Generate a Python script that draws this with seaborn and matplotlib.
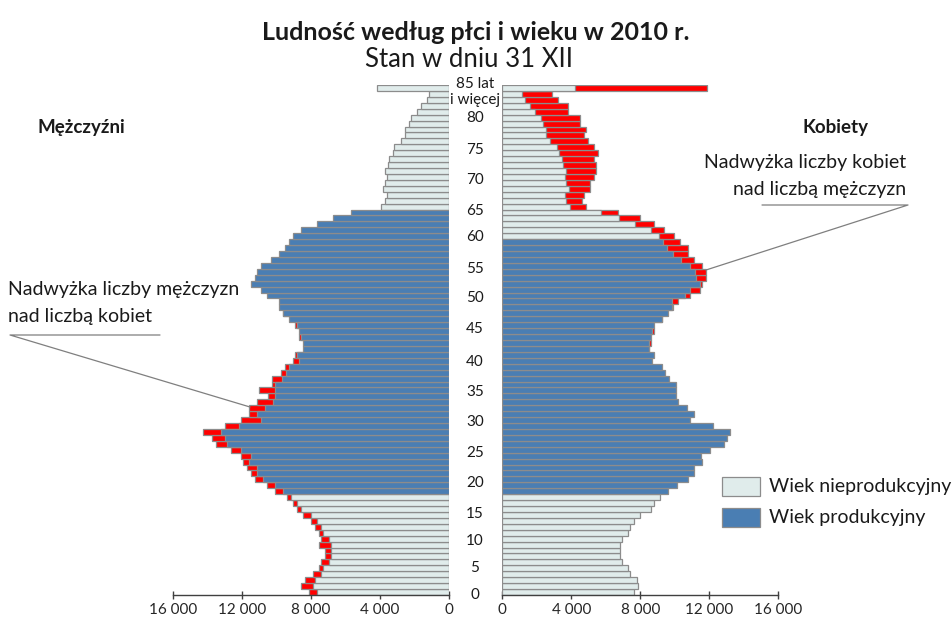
import numpy as np
import pandas as pd
import matplotlib
matplotlib.use("Agg")
import matplotlib.pyplot as plt
import matplotlib.transforms as mtransforms
from matplotlib.patches import Rectangle
from matplotlib.lines import Line2D
from matplotlib.ticker import FuncFormatter, FixedLocator
import seaborn as sns

# ---------------- data ----------------
ages = list(range(86))  # 85 = "85 lat i więcej"
men = [8120, 8580, 8350, 7900, 7540, 7420, 7190, 7190, 7540, 7420,
       7540, 7770, 8000, 8450, 8830, 9060, 9410, 10070, 10550, 11230,
       11480, 11690, 11920, 12060, 12640, 13530, 13760, 14240, 12990, 12060,
       11570, 11570, 11110, 10510, 11000, 10280, 10280, 9720, 9510, 9020,
       8930, 8480, 8480, 8680, 8700, 8930, 9275, 9640, 9860, 9860,
       10570, 10900, 11480, 11250, 11150, 10900, 10340, 9870, 9520, 9290,
       9060, 8600, 7670, 6740, 5700, 3940, 3710, 3610, 3850, 3710,
       3610, 3710, 3520, 3480, 3270, 3170, 2780, 2550, 2550, 2340,
       2220, 1870, 1620, 1290, 1140, 4190]
women = [7630, 7890, 7790, 7400, 7300, 6960, 6820, 6820, 6820, 6960,
         7300, 7400, 7650, 7980, 8600, 8810, 9140, 9620, 10110, 10780,
         11130, 11130, 11590, 11500, 12040, 12870, 13010, 13200, 12200, 10880,
         11110, 10690, 10200, 10070, 10070, 10070, 9680, 9450, 9280, 8700,
         8810, 8490, 8600, 8600, 8790, 8810, 9280, 9620, 9880, 10200,
         10880, 11460, 11560, 11810, 11810, 11580, 11110, 10780, 10780, 10300,
         9950, 9370, 8790, 7980, 6690, 4870, 4640, 4750, 5080, 5080,
         5340, 5430, 5430, 5340, 5550, 5340, 4990, 4750, 4870, 4500,
         4500, 3830, 3830, 3250, 2900, 11850]
men_productive = (17, 64)
women_productive = (17, 59)
x_ticks = [0, 4000, 8000, 12000, 16000]
age_labels = ["85 lat", "i więcej", "80", "75", "70", "65", "60", "55", "50",
              "45", "40", "35", "30", "25", "20", "15", "10", "5", "0"]
age_label_pos = [85.6, 83.0, 80.0, 74.6, 69.5, 64.3, 59.8, 54.5, 49.5,
                 44.4, 38.8, 33.8, 28.7, 23.4, 18.4, 13.1, 8.6, 4.1, -0.5]
group_names = ["Wiek nieprodukcyjny", "Wiek produkcyjny"]

# ---------------- style ----------------
LIGHT = "#E0ECEB"
BLUE = "#4A7EB3"
RED = "#FF0000"
EDGE = "#8C8C8C"

sns.set_theme(style="white")
plt.rcParams['font.family'] = ['Lato', 'DejaVu Sans']

m = np.array(men)
w = np.array(women)
a = np.array(ages)
df = pd.DataFrame({
    "age": a,
    "base": np.minimum(m, w),
    "men_red": np.where(m > w, m, 0),
    "women_red": np.where(w > m, w, 0),
    "m_group": np.where((a >= men_productive[0]) & (a <= men_productive[1]), group_names[1], group_names[0]),
    "w_group": np.where((a >= women_productive[0]) & (a <= women_productive[1]), group_names[1], group_names[0]),
})
palette = {group_names[0]: LIGHT, group_names[1]: BLUE}

W, H = 952, 617
fig = plt.figure(figsize=(W / 100, H / 100), dpi=100)


def fr(x0, y0, x1, y1):
    return [x0 / W, 1 - y1 / H, (x1 - x0) / W, (y1 - y0) / H]


axL = fig.add_axes(fr(173, 85, 449, 595))
axR = fig.add_axes(fr(502.3, 85, 778.3, 595))

for ax, red_col, grp in [(axL, "men_red", "m_group"), (axR, "women_red", "w_group")]:
    sns.barplot(data=df, x=red_col, y="age", orient="h", native_scale=True,
                color=RED, saturation=1, width=1, edgecolor=EDGE, linewidth=0.9,
                errorbar=None, ax=ax)
    sns.barplot(data=df, x="base", y="age", hue=grp, palette=palette, orient="h",
                native_scale=True, saturation=1, width=1, dodge=False, legend=False,
                edgecolor=EDGE, linewidth=0.9, errorbar=None, ax=ax)
    ax.set_ylim(-0.5, 85.5)
    ax.set_xlabel("")
    ax.set_ylabel("")
    ax.set_yticks([])
    for s in ["top", "left", "right"]:
        ax.spines[s].set_visible(False)
    ax.spines["bottom"].set_color("#404040")
    ax.spines["bottom"].set_linewidth(1.0)
    ax.xaxis.set_major_locator(FixedLocator(x_ticks))
    ax.xaxis.set_major_formatter(FuncFormatter(lambda v, p: f"{int(v):,}".replace(",", " ")))
    ax.tick_params(axis="x", direction="inout", length=6, width=1, color="#404040",
                   labelsize=11, pad=3, bottom=True)
    ax.patch.set_alpha(0)

axL.set_xlim(16000, 0)
axR.set_xlim(0, 16000)

# central age labels
trans = mtransforms.blended_transform_factory(fig.transFigure, axL.transData)
for lab, pos in zip(age_labels, age_label_pos):
    fig.text(475 / W, pos, lab, transform=trans, ha="center", va="center",
             fontsize=11, color="#1a1a1a")

# titles
fig.text(476 / W, 1 - 40 / H, "Ludność według płci i wieku w 2010 r.", ha="center",
         va="baseline", fontsize=18, fontweight="bold", color="#1a1a1a")
fig.text(469 / W, 1 - 67 / H, "Stan w dniu 31 XII", ha="center", va="baseline",
         fontsize=18.5, color="#1a1a1a")
fig.text(81 / W, 1 - 128 / H, "Mężczyźni", ha="center", va="center",
         fontsize=13.5, fontweight="bold", color="#1a1a1a")
fig.text(836 / W, 1 - 128 / H, "Kobiety", ha="center", va="center",
         fontsize=13.5, fontweight="bold", color="#1a1a1a")

# annotations
fig.text(906 / W, 1 - 176 / H, "Nadwyżka liczby kobiet\nnad liczbą mężczyzn", ha="right",
         va="center", fontsize=14, linespacing=1.65, color="#1a1a1a")
fig.text(8 / W, 1 - 303 / H, "Nadwyżka liczby mężczyzn\nnad liczbą kobiet", ha="left",
         va="center", fontsize=14, linespacing=1.65, color="#1a1a1a")


def fline(xs, ys):
    fig.add_artist(Line2D([x / W for x in xs], [1 - y / H for y in ys],
                          transform=fig.transFigure, color="#7F7F7F", lw=0.9))


fline([762, 908, 706], [205, 205, 270])
fline([160, 10, 250], [335, 335, 407])

# legend
for (y0, col, lab) in [(477, LIGHT, group_names[0]), (508, BLUE, group_names[1])]:
    fig.add_artist(Rectangle((722 / W, 1 - (y0 + 19) / H), 38 / W, 19 / H,
                             transform=fig.transFigure, facecolor=col,
                             edgecolor=EDGE, lw=0.9))
    fig.text(769 / W, 1 - (y0 + 9.5) / H, lab, ha="left", va="center",
             fontsize=14, color="#1a1a1a")

fig.savefig("out.png", dpi=100)
